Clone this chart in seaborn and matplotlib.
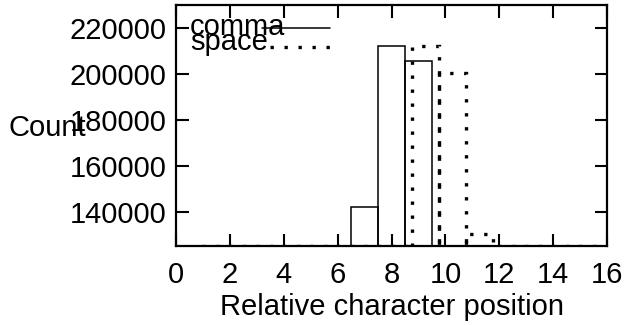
import numpy as np
import matplotlib
matplotlib.use("Agg")
import matplotlib.pyplot as plt
import seaborn as sns

# character positions and counts
positions = [1, 2, 3, 4, 5, 6, 7, 8, 9, 10, 11, 12, 13, 14, 15]
comma = [0, 0, 0, 0, 0, 0, 142000, 212300, 205400, 0, 0, 0, 0, 0, 0]
space = [0, 0, 0, 0, 0, 0, 0, 0, 212300, 200300, 130300, 0, 0, 0, 0]
space_offset = 0.25

x_ticks = [0, 2, 4, 6, 8, 10, 12, 14, 16]
y_ticks = [140000, 160000, 180000, 200000, 220000]
y_min, y_max = 125000, 230000

sns.set_style("ticks")
plt.rcParams["font.family"] = ["Liberation Sans", "DejaVu Sans"]
plt.rcParams.update({"text.color": "black", "axes.labelcolor": "black",
                     "xtick.color": "black", "ytick.color": "black"})
FS = 21

W, H = 628, 325
fig = plt.figure(figsize=(W / 100, H / 100), dpi=100)
ax = fig.add_axes([176 / W, 1 - 246 / H, (607 - 176) / W, (246 - 5) / H])

# values under the y range are drawn on the bottom border (gnuplot style clipping)
comma_h = np.maximum(comma, y_min)
space_h = np.maximum(space, y_min)

sns.histplot(x=positions, weights=comma_h, discrete=True, fill=False,
             element="bars", color="black", linewidth=1.1, ax=ax)
sns.histplot(x=np.array(positions) + space_offset, weights=space_h, discrete=True,
             fill=False, element="bars", color="black", linewidth=2.4,
             linestyle=(0, (1, 3.2)), zorder=3, ax=ax)

ax.set_xlim(0, 16)
ax.set_ylim(y_min, y_max)
ax.set_xticks(x_ticks)
ax.set_yticks(y_ticks)
ax.tick_params(direction="in", length=9, width=1.5, labelsize=FS,
               top=True, right=True)
ax.tick_params(axis="y", pad=7)
ax.tick_params(axis="x", pad=11)
for s in ax.spines.values():
    s.set_linewidth(1.6)
    s.set_color("black")

ax.set_xlabel("Relative character position", fontsize=FS, labelpad=3)
ax.set_ylabel("Count", fontsize=FS, rotation=0, va="center", ha="left")
ax.yaxis.set_label_coords(-168 / 431, 0.49)

# gnuplot-like key in the top left corner
tr = fig.transFigure
fig.text(190 / W, 1 - 35 / H, "comma", fontsize=FS, va="baseline", ha="left")
fig.text(190 / W, 1 - 50 / H, "space", fontsize=FS, va="baseline", ha="left")
fig.add_artist(plt.Line2D([262 / W, 330 / W], [1 - 28 / H, 1 - 28 / H],
                          transform=tr, color="black", linewidth=1.1))
fig.add_artist(plt.Line2D([270 / W, 332 / W], [1 - 46.5 / H, 1 - 46.5 / H],
                          transform=tr, color="black", linewidth=2.4,
                          linestyle=(0, (1, 3.2))))

fig.savefig("out.png", dpi=100)
